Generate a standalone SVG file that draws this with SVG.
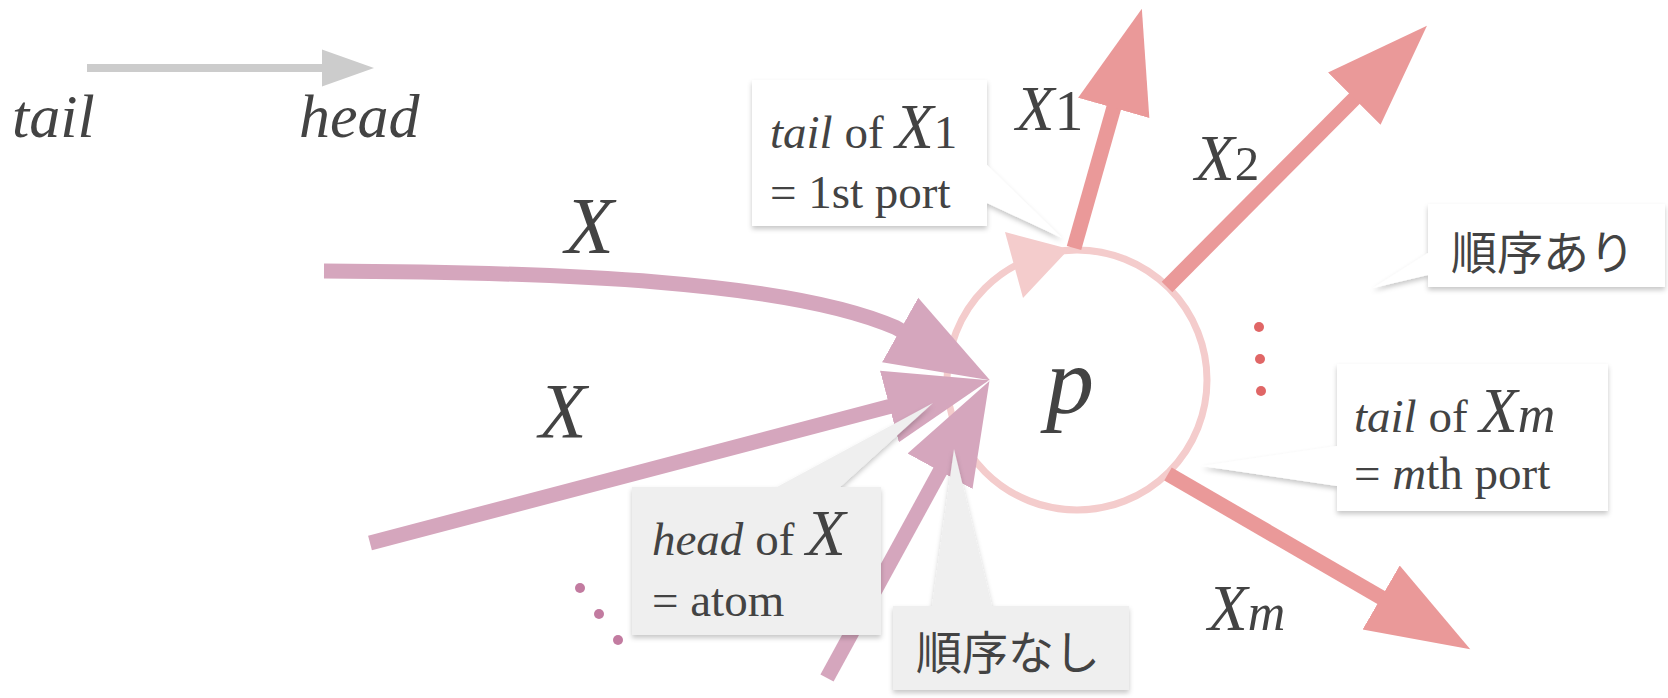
<svg xmlns="http://www.w3.org/2000/svg" width="1668" height="698" viewBox="0 0 1668 698">
<defs>
<style>
.serif{font-family:"Liberation Serif","Times New Roman",serif;fill:#434343}
.it{font-style:italic}
.cjk{font-family:"Noto Sans CJK JP","Noto Sans CJK SC",sans-serif;fill:#434343;font-size:46px}
.pink{fill:none;stroke:#D5A6BD;stroke-width:15}
.red{fill:none;stroke:#EA9999;stroke-width:15}
.gray{fill:none;stroke:#CCCCCC;stroke-width:8}
.cw{fill:#FFFFFF;filter:url(#sh)}
.cg{fill:#EFEFEF;filter:url(#sh)}
</style>
<filter id="sh" x="-10%" y="-10%" width="125%" height="135%">
<feDropShadow dx="0" dy="3" stdDeviation="2.5" flood-color="#000" flood-opacity="0.22"/>
</filter>
<marker id="hp" markerUnits="userSpaceOnUse" viewBox="0 -40 106 80" markerWidth="106" markerHeight="80" refX="1" refY="0" orient="auto">
<path d="M0,-37 L103,0 L0,37 Z" fill="#D5A6BD"/>
</marker>
<marker id="hr" markerUnits="userSpaceOnUse" viewBox="0 -40 106 80" markerWidth="106" markerHeight="80" refX="1" refY="0" orient="auto">
<path d="M0,-37 L103,0 L0,37 Z" fill="#EA9999"/>
</marker>
<marker id="hg" markerUnits="userSpaceOnUse" viewBox="0 -20 54 40" markerWidth="54" markerHeight="40" refX="1" refY="0" orient="auto">
<path d="M0,-18.5 L52,0 L0,18.5 Z" fill="#CCCCCC"/>
</marker>
</defs>
<rect width="1668" height="698" fill="#FFFFFF"/>

<g id="legend">
<path class="gray" d="M87,68 L323,68" marker-end="url(#hg)"/>
<text class="serif it" x="12" y="137" font-size="62">tail</text>
<text class="serif it" x="299" y="137" font-size="62">head</text>
</g>

<g id="node-p">
<circle cx="1077" cy="380" r="130" fill="none" stroke="#F4CCCC" stroke-width="7"/>
<path d="M1005,232 L1069,249 L1023,298 Z" fill="#F4CCCC"/>
<text class="serif it" x="1046" y="413" font-size="96">p</text>
</g>

<g id="connectors">
<path class="pink" d="M324,271 C560,272 790,281 896,327.7 L901,330.5" marker-end="url(#hp)"/>
<path class="pink" d="M370,543 L890.4,406.2" marker-end="url(#hp)"/>
<path class="pink" d="M827,678 L940.5,470.4" marker-end="url(#hp)"/>
<path class="red" d="M1074,248 L1114,107" marker-end="url(#hr)"/>
<path class="red" d="M1167,287 L1355,98" marker-end="url(#hr)"/>
<path class="red" d="M1168,474 L1382,598" marker-end="url(#hr)"/>
</g>

<g id="dots">
<circle cx="1259" cy="327" r="5" fill="#E06666"/>
<circle cx="1260" cy="359" r="5" fill="#E06666"/>
<circle cx="1261" cy="391" r="5" fill="#E06666"/>
<circle cx="580" cy="588" r="5" fill="#C27BA0"/>
<circle cx="599" cy="614" r="5" fill="#C27BA0"/>
<circle cx="618" cy="640" r="5" fill="#C27BA0"/>
</g>

<g id="labels">
<text class="serif it" x="565" y="253" font-size="80">X</text>
<text class="serif it" x="539" y="437" font-size="78">X</text>
<text class="serif" x="1016" y="130" font-size="63"><tspan class="it">X</tspan><tspan font-size="58">1</tspan></text>
<text class="serif" x="1195" y="180" font-size="65"><tspan class="it">X</tspan><tspan font-size="49">2</tspan></text>
<text class="serif it" x="1208" y="630" font-size="65">X<tspan font-size="52">m</tspan></text>
</g>

<g id="callout-tail-x1">
<path class="cw" d="M752,80 H987 V165 L1062,238 L987,203 V226 H752 Z"/>
<text class="serif" x="770" y="148" font-size="47"><tspan class="it">tail</tspan> of <tspan class="it" font-size="63">X</tspan>1</text>
<text class="serif" x="770" y="208" font-size="47">= 1st port</text>
</g>

<g id="callout-ordered">
<path class="cw" d="M1428,204 H1665 V287 H1428 V275 L1373,288 L1428,253 Z"/>
<text class="cjk" x="1451" y="269">順序あり</text>
</g>

<g id="callout-tail-xm">
<path class="cw" d="M1337,364 H1608 V511 H1337 V486 L1202,466 L1337,446 Z"/>
<text class="serif" x="1354" y="432" font-size="47"><tspan class="it">tail</tspan> of <tspan class="it" font-size="63">X</tspan><tspan class="it" font-size="52">m</tspan></text>
<text class="serif" x="1354" y="489" font-size="47">= <tspan class="it">m</tspan>th port</text>
</g>

<g id="callout-head-x">
<path class="cg" d="M632,487 H777 L933,403 L840,487 H881 V635 H632 Z"/>
<text class="serif" x="652" y="555" font-size="47"><tspan class="it">head</tspan> of <tspan class="it" font-size="65">X</tspan></text>
<text class="serif" x="652" y="616" font-size="47">= atom</text>
</g>

<g id="callout-unordered">
<path class="cg" d="M893,606 H932 L954,449 L992,606 H1129 V690 H893 Z"/>
<text class="cjk" x="916" y="669">順序なし</text>
</g>
</svg>
